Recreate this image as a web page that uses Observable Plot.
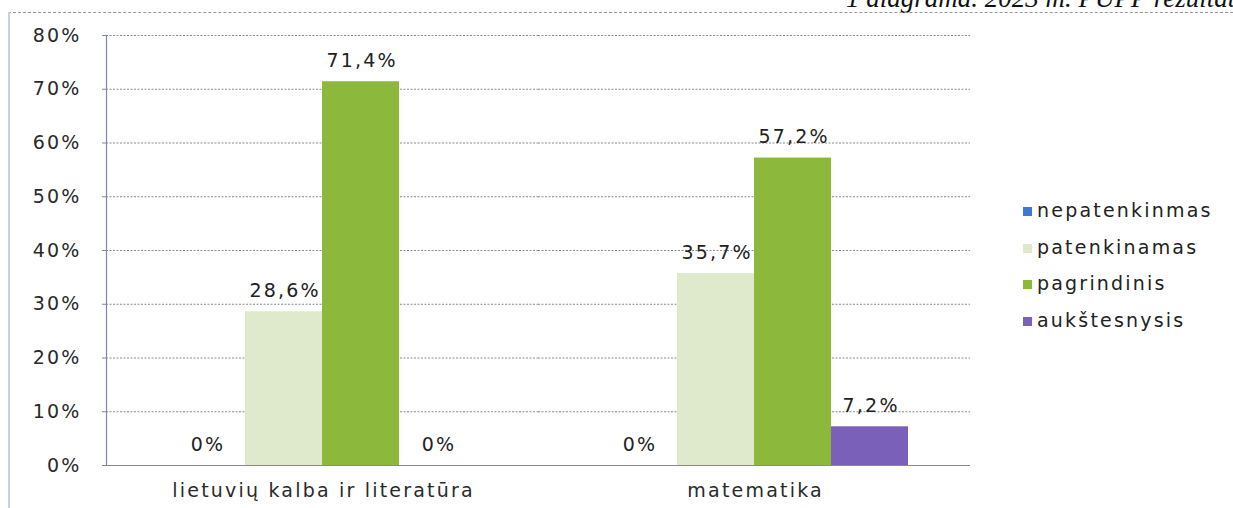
<!DOCTYPE html>
<html>
<head>
<meta charset="utf-8">
<script src="https://cdn.jsdelivr.net/npm/d3@7"></script>
<script src="https://cdn.jsdelivr.net/npm/@observablehq/plot@0.6"></script>
<style>
  html, body { margin: 0; padding: 0; background: #fff; }
  #wrap { position: relative; width: 1233px; height: 508px; overflow: hidden; font-family: "DejaVu Sans", sans-serif; }
  #caption { position: absolute; left: 846px; top: -17px; white-space: nowrap; font-family: "Liberation Serif", serif; font-style: italic; font-size: 27px; color: #111; }
  #topline { position: absolute; left: 8px; right: 0; top: 12px; border-top: 1px dashed #999; }
  #leftline { position: absolute; left: 8px; top: 12px; bottom: 0; border-left: 2px solid #c8d0e8; }
  #chart { position: absolute; left: 0; top: 0; }
  #chart svg text { letter-spacing: 2.2px; }
  #legend { position: absolute; left: 1017px; top: 199px; font-size: 19px; color: #222; letter-spacing: 2.2px; }
  #legend div { height: 36.5px; display: flex; align-items: flex-start; }
  #legend span.sw { display: inline-block; width: 9px; height: 9px; margin: 8px 5px 0 6px; }
</style>
</head>
<body>
<div id="wrap">
  <div id="caption">1 diagrama. 2023 m. PUPP rezultatai</div>
  <div id="topline"></div>
  <div id="leftline"></div>
  <div id="chart"></div>
  <div id="legend"></div>
</div>
<script>
const subjects = ["lietuvių kalba ir literatūra", "matematika"];
const levels = ["nepatenkinmas", "patenkinamas", "pagrindinis", "aukštesnysis"];
const colors = ["#3f78d4", "#dfe9cb", "#8cb93c", "#7a60b8"];
const lietuviuValues = [0, 28.6, 71.4, 0];
const matematikaValues = [0, 35.7, 57.2, 7.2];
const yTicks = [0, 10, 20, 30, 40, 50, 60, 70, 80];

const data = [];
levels.forEach((l, i) => data.push({subject: subjects[0], level: l, value: lietuviuValues[i]}));
levels.forEach((l, i) => data.push({subject: subjects[1], level: l, value: matematikaValues[i]}));

const fmt = v => (v === 0 ? "0" : v.toFixed(1).replace(".", ",")) + "%";
const LS = 2.2;

const chart = Plot.plot({
  width: 1233,
  height: 508,
  marginTop: 35,
  marginBottom: 43,
  marginLeft: 105,
  marginRight: 263,
  style: {fontFamily: "DejaVu Sans, sans-serif", fontSize: "19px", color: "#2a2a2a", background: "transparent"},
  fx: {domain: subjects, padding: 0, label: null},
  x: {domain: levels, padding: 0, paddingOuter: 0.8, axis: null},
  y: {domain: [0, 80], ticks: yTicks, label: null},
  color: {domain: levels, range: colors},
  marks: [
    Plot.ruleY(yTicks.filter(d => d > 0), {stroke: "#8a8a8a", strokeDasharray: "2,1.5", strokeWidth: 1}),
    Plot.barY(data, {fx: "subject", x: "level", y: "value", fill: "level"}),
    Plot.text(data, {fx: "subject", x: "level", y: "value", text: d => fmt(d.value), dy: -21, dx: LS / 2, fontSize: 19, fill: "#222"}),
    Plot.ruleY([0], {stroke: "#8a8a8a", strokeWidth: 1}),
    Plot.frame({anchor: "left", facetAnchor: "left", stroke: "#7f86a8", strokeWidth: 1.2}),
    Plot.axisY(yTicks, {tickFormat: d => d + "%", tickSize: 4, tickPadding: 21, stroke: "#7f86a8", fontSize: 19}),
    Plot.axisFx({anchor: "bottom", tickSize: 0, tickPadding: 18, fontSize: 19, label: null, dx: LS / 2})
  ]
});
document.getElementById("chart").appendChild(chart);

const legend = document.getElementById("legend");
levels.forEach((l, i) => {
  const row = document.createElement("div");
  row.innerHTML = `<span class="sw" style="background:${colors[i]}"></span><span>${l}</span>`;
  legend.appendChild(row);
});
</script>
</body>
</html>
